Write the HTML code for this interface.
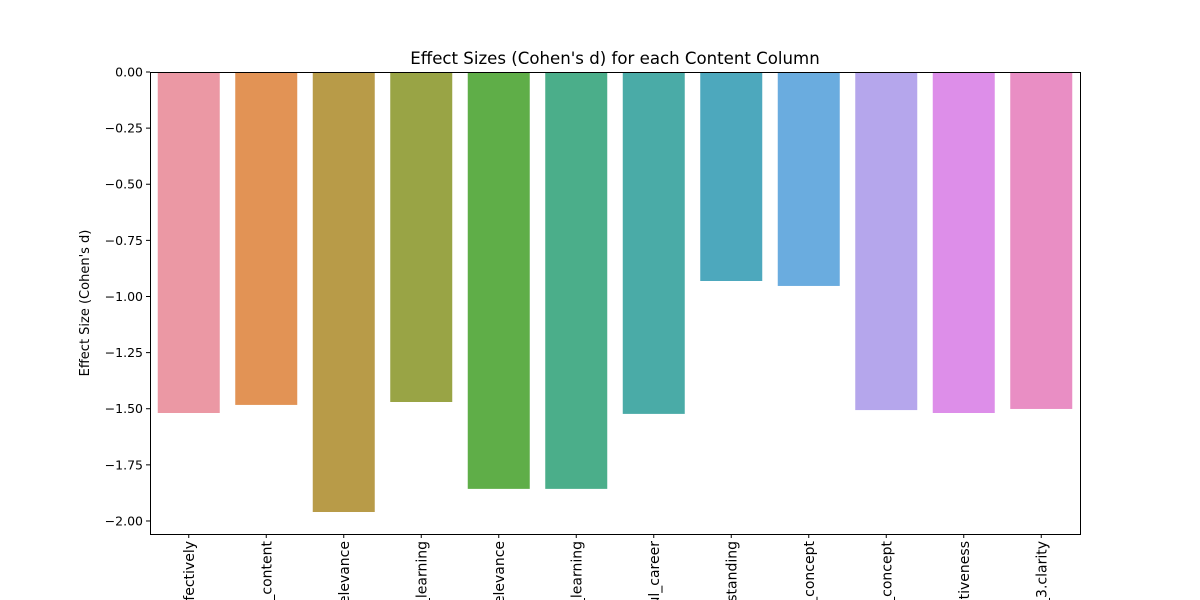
<!DOCTYPE html>
<html><head><meta charset="utf-8"><style>html,body{margin:0;background:#fff;overflow:hidden;width:1200px;height:600px}svg{display:block;font-family:"DejaVu Sans","Liberation Sans",sans-serif;overflow:hidden}</style></head>
<body>
<svg id="chart" width="1200" height="600" viewBox="0 0 1200 600">
<text x="615" y="64" text-anchor="middle" font-size="16.6">Effect Sizes (Cohen's d) for each Content Column</text>
<text transform="translate(89,303) rotate(-90)" text-anchor="middle" font-size="13">Effect Size (Cohen's d)</text>
<g id="bars"></g><g id="yticks"></g><g id="xticks"></g>
<rect x="150.5" y="72.5" width="930" height="462" fill="none" stroke="#000" stroke-width="1"/>
</svg>
<script>
const categories=["q1.used_effectively","q2.relevant_content","q3.topic_relevance","q4.active_learning","q5.course_relevance","q6.deep_learning","q7.useful_career","q8.understanding","q9.key_concept","q10.apply_concept","q11.effectiveness","q12.explanation_3.clarity"];
const values=[-1.519,-1.483,-1.960,-1.470,-1.857,-1.857,-1.523,-0.931,-0.953,-1.506,-1.519,-1.501];
const colors=["#eb98a4","#e29355","#b89b48","#99a445","#5fae48","#4bae8a","#4aaba7","#4da8bd","#6aacdf","#b5a6ec","#dd8ee9","#e98ec4"];
const yTicks=[0,-0.25,-0.5,-0.75,-1,-1.25,-1.5,-1.75,-2];
const yTickLabels=["0.00","−0.25","−0.50","−0.75","−1.00","−1.25","−1.50","−1.75","−2.00"];
const L=150,R=1080,T=72,B=534,ymax=0,ymin=-2.058;
const ns="http://www.w3.org/2000/svg";
const y=v=>T+(ymax-v)/(ymax-ymin)*(B-T);
const step=(R-L)/categories.length;
const x=i=>L+step*(i+0.5);
function mk(t,a,p){const e=document.createElementNS(ns,t);for(const k in a)e.setAttribute(k,a[k]);p.appendChild(e);return e;}
const gb=document.getElementById('bars'),gy=document.getElementById('yticks'),gx=document.getElementById('xticks');
values.forEach((v,i)=>{const w=step*0.8;
const r=mk('rect',{x:x(i)-w/2,y:y(0),width:w,height:y(v)-y(0),fill:colors[i]},gb);


const t=mk('line',{x1:x(i),x2:x(i),y1:B,y2:B+4,stroke:'#000'},gx);


const lb=mk('text',{transform:`translate(${x(i)+5},${B+7}) rotate(-90)`,'text-anchor':'end','font-size':'14'},gx);
lb.textContent=categories[i];


});
yTicks.forEach((v,i)=>{
const t=mk('line',{x1:L-4,x2:L,y1:y(v),y2:y(v),stroke:'#000'},gy);


const lb=mk('text',{x:L-7,y:y(v)+4.5,'text-anchor':'end','font-size':'12.5'},gy);
lb.textContent=yTickLabels[i];


});
</script>
</body></html>
